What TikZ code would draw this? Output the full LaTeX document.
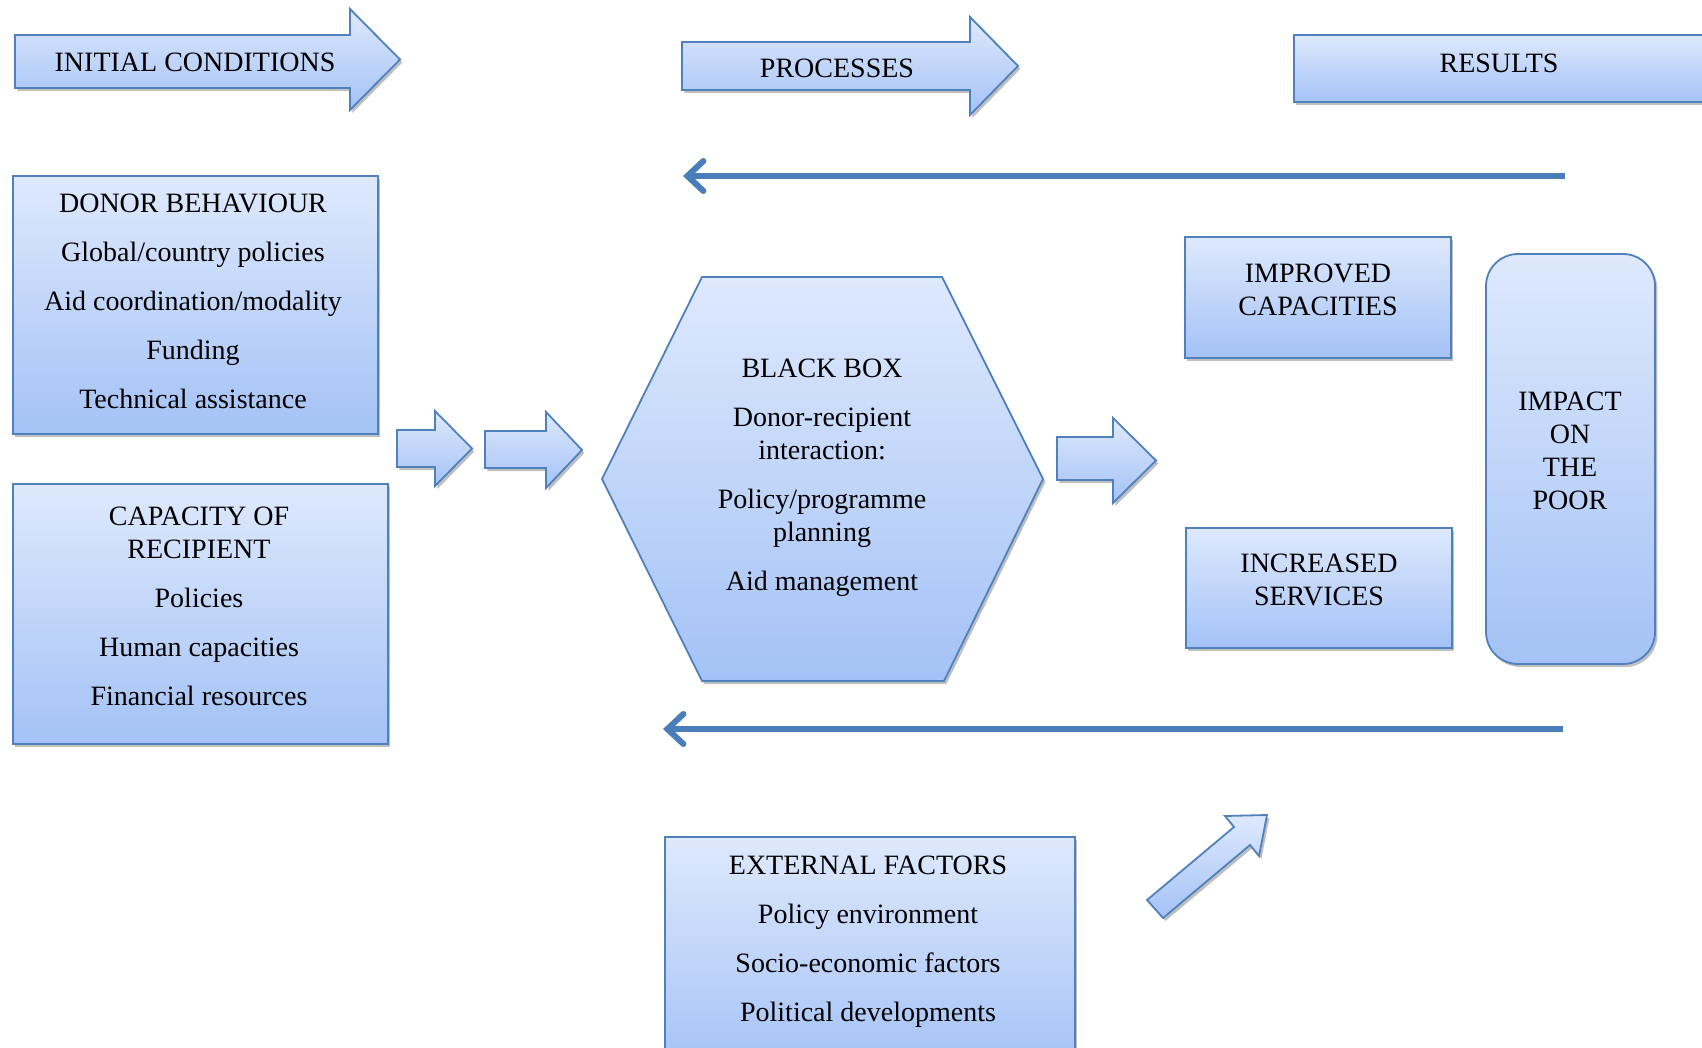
\documentclass[tikz,border=0pt]{standalone}
\usepackage{fontspec}
\setmainfont{Liberation Serif}
\usetikzlibrary{shadows,arrows.meta}
\definecolor{bord}{RGB}{79,129,189}
\definecolor{gtop}{RGB}{222,233,253}
\definecolor{gbot}{RGB}{164,194,246}
\definecolor{fbline}{RGB}{74,126,187}
\newcommand{\mfs}{\fontsize{14}{16.5}\selectfont}
\newcommand{\barrow}[7]{%
  \path[blk] (#1,#2) -- (#4,#2) -- (#4,#5) -- (#7,{(#5+#6)/2}) -- (#4,#6) -- (#4,#3) -- (#1,#3) -- cycle;}
\tikzset{
  shd/.style={drop shadow={shadow xshift=1.2pt,shadow yshift=-1.5pt,opacity=0.25,fill=black}},
  blk/.style={draw=bord, line width=0.9pt, top color=gtop, bottom color=gbot, shd},
  box/.style={blk, inner sep=0pt},
  txt/.style={align=center, font=\mfs, inner sep=0pt},
  fb/.style={draw=fbline, line width=3pt, -{Straight Barb[length=8pt,width=15pt,line cap=round]}},
}
\begin{document}
\begin{tikzpicture}[x=0.5pt,y=-0.5pt]
\useasboundingbox (0,0) rectangle (1702,1048);
\clip (0,0) rectangle (1702,1048);

% header arrows
\barrow{15}{35}{88}{350}{9}{110}{400}
\node[txt] (initial) at (195,62) {INITIAL CONDITIONS};
\barrow{682}{42}{90}{970}{17}{115}{1018}
\node[txt] (processes) at (837,68) {PROCESSES};
\path[blk] (1294,35) rectangle (1760,102);
\node[txt] (results) at (1499,63) {RESULTS};

% feedback arrows
\coordinate (fb1s) at (1565,176);
\coordinate (fb1e) at (683,176);
\draw[fb] (fb1s) -- (fb1e);
\coordinate (fb2s) at (1563,729);
\coordinate (fb2e) at (663,729);
\draw[fb] (fb2s) -- (fb2e);

% left boxes
\node[box, minimum width=182.5pt, minimum height=129pt] (donor) at (195.5,305) {};
\node[txt] (donortxt) at (193,301)
  {DONOR BEHAVIOUR\\[8pt]Global/country policies\\[8pt]Aid coordination/modality\\[8pt]Funding\\[8pt]Technical assistance};
\node[box, minimum width=187.5pt, minimum height=130pt] (capacity) at (200.5,614) {};
\node[txt] (capacitytxt) at (199,606)
  {CAPACITY OF\\RECIPIENT\\[8pt]Policies\\[8pt]Human capacities\\[8pt]Financial resources};

% small arrows
\barrow{397}{430}{467}{435}{411}{486}{472}
\barrow{485}{431}{468}{546}{412}{488}{582}

% black box hexagon
\path[blk] (602,479) -- (702,277) -- (942,277) -- (1043,479) -- (944,681) -- (702,681) -- cycle;
\node[txt] (blackbox) at (822,478)
  {BLACK BOX\\[8pt]Donor-recipient\\interaction:\\[8pt]Policy/programme\\planning\\[8pt]Aid management};

% arrow to results
\barrow{1057}{437}{480}{1113}{418}{503}{1156}

% results boxes
\node[box, minimum width=133pt, minimum height=60.5pt] (improved) at (1318,297.5) {};
\node[txt] (improvedtxt) at (1318,290) {IMPROVED\\CAPACITIES};
\node[box, minimum width=133pt, minimum height=60pt] (increased) at (1319,588) {};
\node[txt] (increasedtxt) at (1319,580) {INCREASED\\SERVICES};
\node[box, rounded corners=16pt, minimum width=84.5pt, minimum height=205pt] (impact) at (1570.5,459) {};
\node[txt] (impacttxt) at (1570,451) {IMPACT\\ON\\THE\\POOR};

% external factors
\path[blk] (665,837) rectangle (1075,1070);
\node[txt] (external) at (868,942)
  {EXTERNAL FACTORS\\[8pt]Policy environment\\[8pt]Socio-economic factors\\[8pt]Political developments};

% diagonal arrow
\path[blk] (1163,918) -- (1147,900) -- (1234,827) -- (1225,816) -- (1267,815) -- (1259,856) -- (1250,845) -- cycle;
\end{tikzpicture}
\end{document}
